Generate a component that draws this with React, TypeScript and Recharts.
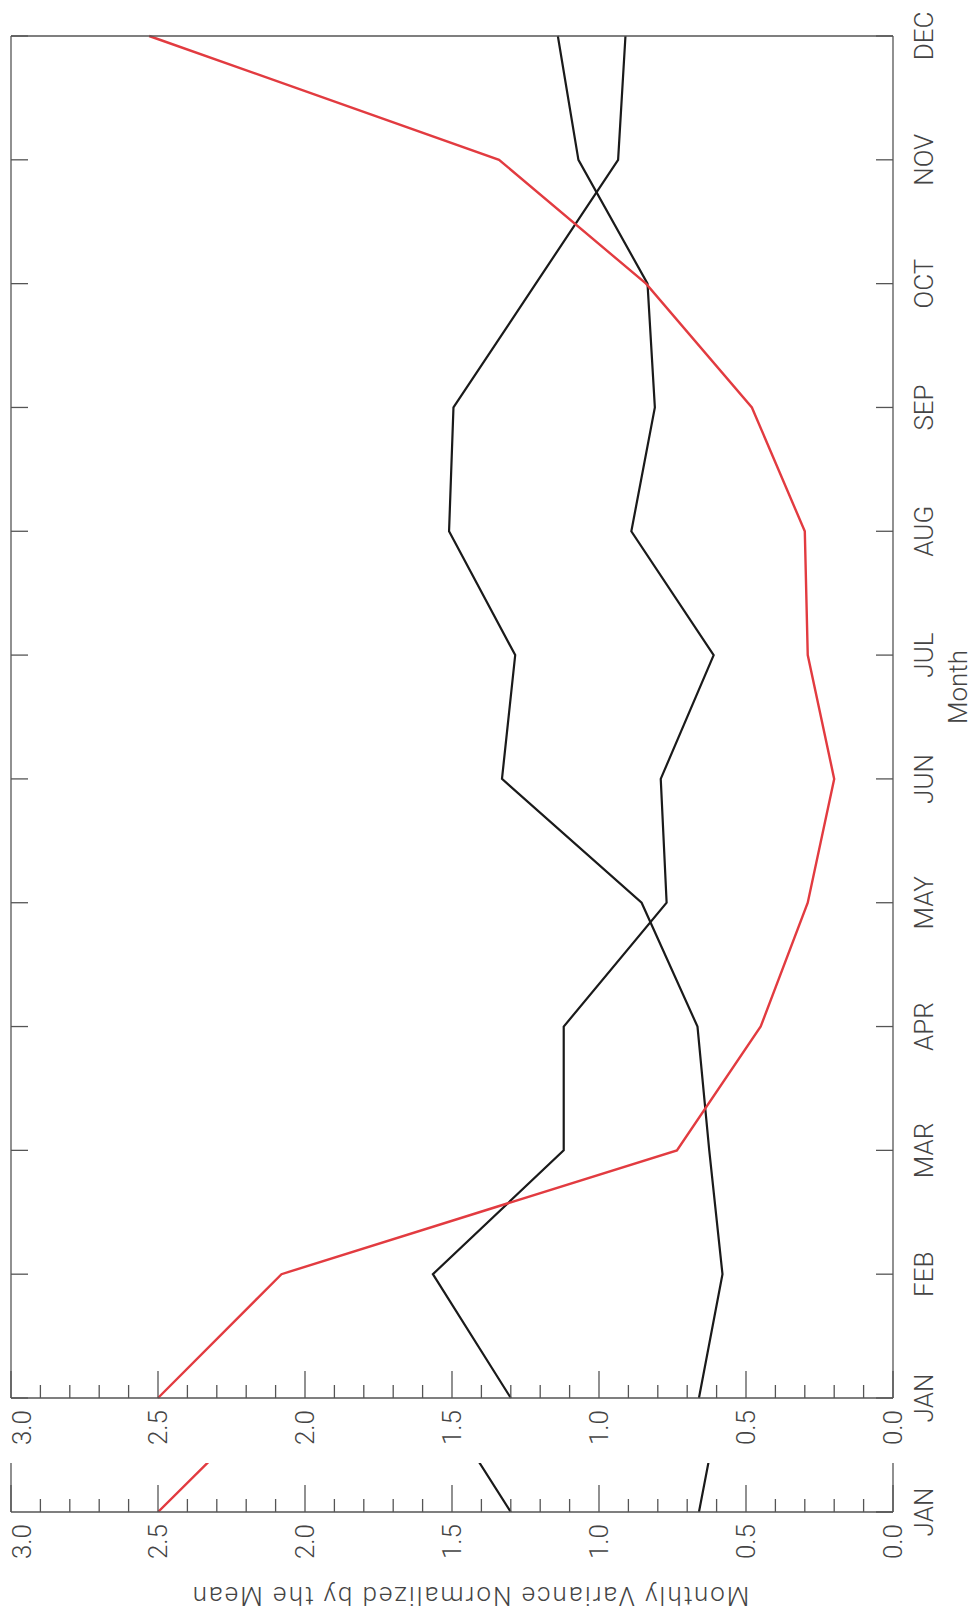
import React from 'react';
import { LineChart, Line, XAxis, YAxis } from 'recharts';

// months run along the x axis, values along y; the page is turned 90deg afterwards
const MONTHS = ['JAN', 'FEB', 'MAR', 'APR', 'MAY', 'JUN', 'JUL', 'AUG', 'SEP', 'OCT', 'NOV', 'DEC'];
const MONTH_TICKS = [0, 1, 2, 3, 4, 5, 6, 7, 8, 9, 10, 11];
const KEY_TICKS = [0];
const VALUE_TICKS = [
  0, 0.1, 0.2, 0.3, 0.4, 0.5, 0.6, 0.7, 0.8, 0.9, 1.0, 1.1, 1.2, 1.3, 1.4, 1.5,
  1.6, 1.7, 1.8, 1.9, 2.0, 2.1, 2.2, 2.3, 2.4, 2.5, 2.6, 2.7, 2.8, 2.9, 3.0,
];

const redSeries = [2.5, 2.08, 0.735, 0.45, 0.29, 0.2, 0.29, 0.3, 0.48, 0.84, 1.34, 2.53];
const blackSeriesA = [1.3, 1.565, 1.12, 1.12, 0.77, 0.79, 0.61, 0.89, 0.81, 0.835, 1.07, 1.14];
const blackSeriesB = [0.66, 0.58, 0.625, 0.665, 0.855, 1.33, 1.285, 1.51, 1.495, 1.215, 0.935, 0.91];

const data = MONTHS.map((name, i) => ({
  m: i,
  name,
  red: redSeries[i],
  a: blackSeriesA[i],
  b: blackSeriesB[i],
}));

const AXIS = '#555';
const TEXT = '#444';
const FONT = 'Roboto, "DejaVu Sans", sans-serif';
const RED = '#e23b40';
const BLACK = '#1a1a1a';

const isMajor = (v: number) => Math.abs(v * 2 - Math.round(v * 2)) < 1e-6;

// month ticks: line pointing into the box, optional label below
const MonthTick = ({ x, y, payload, dir, label }: any) => (
  <g>
    <line x1={x} y1={y} x2={x} y2={y + dir * 17} stroke={AXIS} strokeWidth={1.3} />
    {label && (
      <text x={x} y={y + 40} textAnchor="middle" fontSize={26} fontWeight={300} fill={TEXT} fontFamily={FONT}>
        {MONTHS[payload.value]}
      </text>
    )}
  </g>
);

// value ticks: long at every 0.5, short at every 0.1
const ValueTick = ({ x, y, payload, dir, label }: any) => {
  const v = payload.value;
  const major = isMajor(v);
  // the top label (3.0) sits just inside the page edge
  const ty = Math.max(y, 22);
  return (
    <g>
      <line x1={x} y1={y} x2={x + dir * (major ? 27 : 13)} y2={y} stroke={AXIS} strokeWidth={1.3} />
      {label && major && (
        <text x={x - 12} y={ty} dy="0.36em" textAnchor="end" fontSize={26} fontWeight={300} fill={TEXT} fontFamily={FONT}>
          {v.toFixed(1)}
        </text>
      )}
    </g>
  );
};

const MonthTitle = ({ viewBox }: any) => {
  const vb = viewBox || { x: 58, y: 893, width: 1362, height: 50 };
  const cx = vb.x + vb.width * 0.522;
  return (
    <text x={cx} y={vb.y + 74} textAnchor="middle" fontSize={26} fontWeight={300} fill={TEXT} fontFamily={FONT}>
      Month
    </text>
  );
};

const ValueTitle = ({ viewBox }: any) => {
  const vb = viewBox || { x: 0, y: 11, width: 104, height: 882 };
  const cx = vb.x + 29;
  const cy = vb.y + vb.height / 2 + 18;
  return (
    <text
      x={cx}
      y={cy}
      transform={`rotate(-90 ${cx} ${cy})`}
      textAnchor="middle"
      fontSize={26}
      fontWeight={300}
      letterSpacing={2}
      fill={TEXT}
      fontFamily={FONT}
    >
      Monthly Variance Normalized by the Mean
    </text>
  );
};

const axisLine = { stroke: AXIS, strokeWidth: 1.3 };

const MainPanel = () => (
  <LineChart width={1456} height={974} data={data} margin={{ top: 5, right: 26, bottom: 31, left: 8 }}>
    <XAxis
      dataKey="m"
      type="number"
      domain={[0, 11]}
      ticks={MONTH_TICKS}
      interval={0}
      tickSize={0}
      tickMargin={0}
      tickLine={false}
      axisLine={axisLine}
      height={50}
      tick={(p: any) => <MonthTick {...p} dir={-1} label />}
      label={<MonthTitle />}
    />
    <XAxis
      xAxisId="top"
      orientation="top"
      dataKey="m"
      type="number"
      domain={[0, 11]}
      ticks={MONTH_TICKS}
      interval={0}
      tickSize={0}
      tickMargin={0}
      tickLine={false}
      axisLine={axisLine}
      height={6}
      tick={(p: any) => <MonthTick {...p} dir={1} />}
    />
    <YAxis
      type="number"
      domain={[0, 3]}
      ticks={VALUE_TICKS}
      interval={0}
      tickSize={0}
      tickMargin={0}
      tickLine={false}
      axisLine={axisLine}
      width={50}
      tick={(p: any) => <ValueTick {...p} dir={1} label />}
    />
    <YAxis
      yAxisId="right"
      orientation="right"
      type="number"
      domain={[0, 3]}
      ticks={VALUE_TICKS}
      interval={0}
      tickSize={0}
      tickMargin={0}
      tickLine={false}
      axisLine={axisLine}
      width={10}
      tick={(p: any) => <ValueTick {...p} dir={-1} />}
    />
    <Line type="linear" dataKey="a" stroke={BLACK} strokeWidth={2.2} dot={false} isAnimationActive={false} />
    <Line type="linear" dataKey="b" stroke={BLACK} strokeWidth={2.2} dot={false} isAnimationActive={false} />
    <Line type="linear" dataKey="red" stroke={RED} strokeWidth={2.4} dot={false} isAnimationActive={false} />
  </LineChart>
);

// narrow strip repeating the start of the curves at JAN
const KeyPanel = () => (
  <LineChart width={160} height={974} data={data} margin={{ top: 5, right: 7, bottom: 31, left: 0 }}>
    <XAxis
      dataKey="m"
      type="number"
      domain={[0, 0.4]}
      allowDataOverflow
      ticks={KEY_TICKS}
      interval={0}
      tickSize={0}
      tickMargin={0}
      tickLine={false}
      axisLine={axisLine}
      height={50}
      tick={(p: any) => <MonthTick {...p} dir={-1} label />}
    />
    <XAxis
      xAxisId="top"
      orientation="top"
      dataKey="m"
      type="number"
      domain={[0, 0.4]}
      allowDataOverflow
      tick={false}
      tickLine={false}
      axisLine={axisLine}
      height={6}
    />
    <YAxis
      type="number"
      domain={[0, 3]}
      ticks={VALUE_TICKS}
      interval={0}
      tickSize={0}
      tickMargin={0}
      tickLine={false}
      axisLine={axisLine}
      width={104}
      tick={(p: any) => <ValueTick {...p} dir={1} label />}
      label={<ValueTitle />}
    />
    <Line type="linear" dataKey="a" stroke={BLACK} strokeWidth={2.2} dot={false} isAnimationActive={false} />
    <Line type="linear" dataKey="b" stroke={BLACK} strokeWidth={2.2} dot={false} isAnimationActive={false} />
    <Line type="linear" dataKey="red" stroke={RED} strokeWidth={2.4} dot={false} isAnimationActive={false} />
  </LineChart>
);

export default function App() {
  return (
    <div style={{ position: 'absolute', left: 0, top: 0, width: 974, height: 1616, overflow: 'hidden', background: '#fff' }}>
      <div
        style={{
          position: 'absolute',
          left: 0,
          top: 0,
          width: 1616,
          height: 974,
          transformOrigin: '0 0',
          transform: 'translateY(1616px) rotate(-90deg)',
        }}
      >
        <div style={{ position: 'absolute', left: 0, top: 0 }}>
          <KeyPanel />
        </div>
        <div style={{ position: 'absolute', left: 160, top: 0 }}>
          <MainPanel />
        </div>
      </div>
    </div>
  );
}
